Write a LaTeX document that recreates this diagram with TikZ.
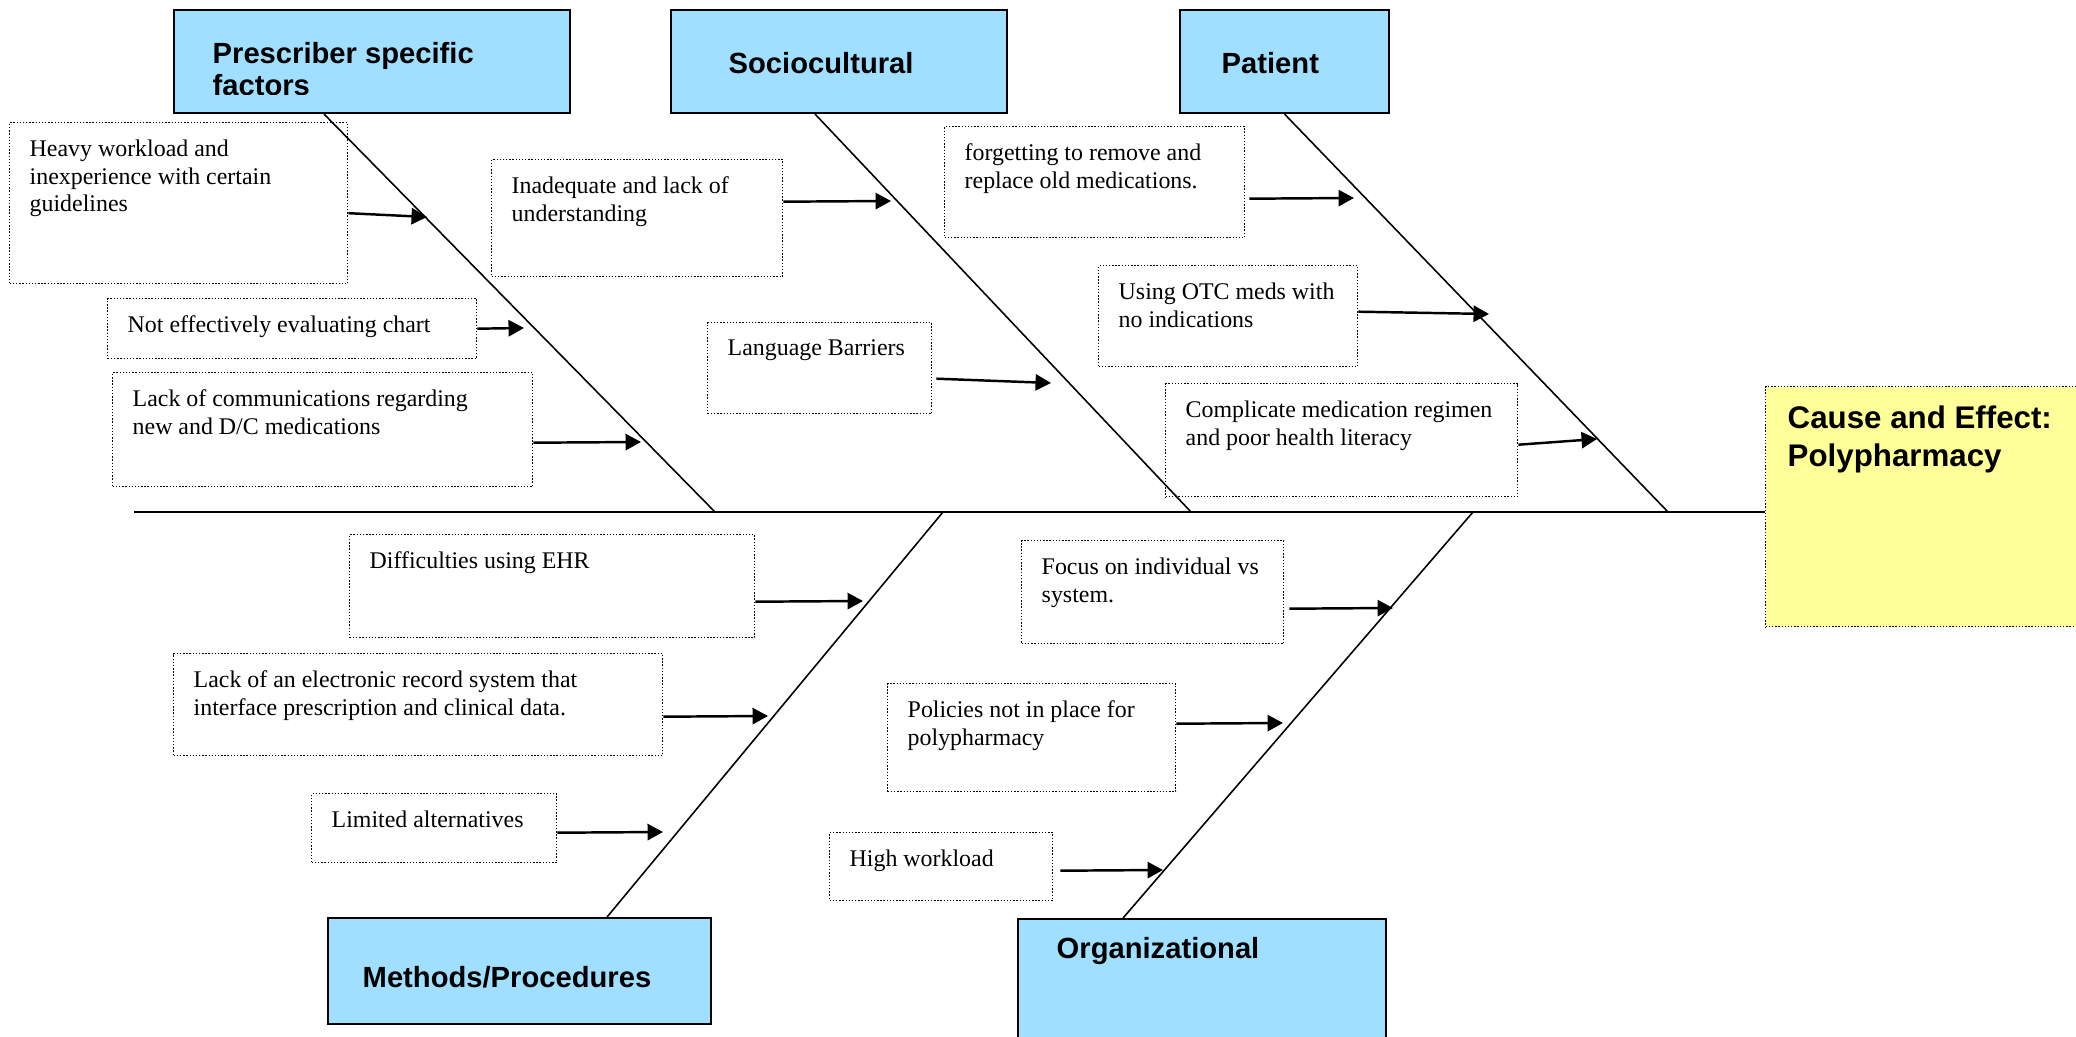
\documentclass[tikz,border=0pt]{standalone}
\usepackage{fontspec}
\setmainfont{Liberation Serif}
\newfontfamily\headfont{Liberation Sans}
\usetikzlibrary{arrows.meta}
\definecolor{catblue}{RGB}{160,223,255}
\definecolor{effectyellow}{RGB}{255,255,153}

\begin{document}
\begin{tikzpicture}[
        category/.style={draw, line width=0.6pt, fill=catblue, anchor=north west, inner sep=0pt},
        cattext/.style={anchor=north west, inner sep=0pt, align=left, font=\headfont\bfseries\fontsize{8.3}{9.1}\selectfont},
        causebox/.style={draw, line width=0.4pt, dash pattern=on 0.4pt off 0.5pt, anchor=north west, inner sep=0pt},
        causetext/.style={anchor=north west, inner sep=0pt, align=left, font=\fontsize{6.8}{7.9}\selectfont},
        bone/.style={line width=0.45pt},
        causearrow/.style={line width=0.7pt, -{Triangle[length=4.4pt, width=4.6pt]}}
    ]
        \useasboundingbox (0,0) rectangle (20.76,10.36);
        \clip (0,0) rectangle (20.76,10.36);

        % Category boxes
        \node[category, minimum width=3.96cm, minimum height=1.03cm] (prescriber) at (1.73,10.27) {};
        \begin{scope}
            \clip (prescriber.north west) rectangle ([yshift=-0.86cm]prescriber.north east);
            \node[cattext] (prescriber-t) at ([shift={(0.39,-0.33)}]prescriber.north west) {Prescriber specific\\factors};
        \end{scope}
        \node[category, minimum width=3.36cm, minimum height=1.03cm] (sociocultural) at (6.70,10.27) {};
        \node[cattext] (sociocultural-t) at ([shift={(0.58,-0.43)}]sociocultural.north west) {Sociocultural};
        \node[category, minimum width=2.09cm, minimum height=1.03cm] (patient) at (11.79,10.27) {};
        \node[cattext] (patient-t) at ([shift={(0.42,-0.43)}]patient.north west) {Patient};
        \node[category, minimum width=3.83cm, minimum height=1.06cm] (methods) at (3.27,1.19) {};
        \node[cattext] (methods-t) at ([shift={(0.35,-0.49)}]methods.north west) {Methods/Procedures};
        \node[category, minimum width=3.68cm, minimum height=1.5cm] (organizational) at (10.17,1.18) {};
        \node[cattext] (organizational-t) at ([shift={(0.39,-0.19)}]organizational.north west) {Organizational};

        % Effect box
        \node[causebox, fill=effectyellow, minimum width=3.5cm, minimum height=2.40cm] (effect) at (17.65,6.50) {};
        \node[cattext, font=\headfont\bfseries\fontsize{8.9}{10.8}\selectfont] (effect-t) at ([shift={(0.22,-0.19)}]effect.north west) {Cause and Effect:\\Polypharmacy};

        % Main spine and bones
        \coordinate (tail) at (1.34,5.24);
        \coordinate (j-pres) at (7.15,5.24);
        \coordinate (j-soc) at (11.91,5.24);
        \coordinate (j-pat) at (16.68,5.24);
        \coordinate (j-meth) at (9.43,5.24);
        \coordinate (j-org) at (14.73,5.24);
        \draw[line width=0.6pt] (tail) -- (tail -| effect.west);
        \draw[bone] ([xshift=-0.48cm]prescriber.south) -- (j-pres);
        \draw[bone] ([xshift=-0.24cm]sociocultural.south) -- (j-soc);
        \draw[bone] (patient.south) -- (j-pat);
        \draw[bone] ([xshift=0.875cm]methods.north) -- (j-meth);
        \draw[bone] ([xshift=-0.79cm]organizational.north) -- (j-org);

        % Causes above the spine
        \node[causebox, minimum width=3.38cm, minimum height=1.61cm] (heavy) at (0.09,9.14) {};
        \node[causetext] (heavy-t) at ([shift={(0.2,-0.17)}]heavy.north west) {Heavy workload and\\inexperience with certain\\guidelines};
        \node[causebox, minimum width=3.69cm, minimum height=0.60cm] (noteval) at (1.07,7.38) {};
        \node[causetext] (noteval-t) at ([shift={(0.2,-0.17)}]noteval.north west) {Not effectively evaluating chart};
        \node[causebox, minimum width=4.20cm, minimum height=1.14cm] (lackcomm) at (1.12,6.64) {};
        \node[causetext] (lackcomm-t) at ([shift={(0.2,-0.17)}]lackcomm.north west) {Lack of communications regarding\\new and D/C medications};
        \node[causebox, minimum width=2.91cm, minimum height=1.17cm] (inadequate) at (4.91,8.77) {};
        \node[causetext] (inadequate-t) at ([shift={(0.2,-0.17)}]inadequate.north west) {Inadequate and lack of\\understanding};
        \node[causebox, minimum width=2.24cm, minimum height=0.91cm] (language) at (7.07,7.14) {};
        \node[causetext] (language-t) at ([shift={(0.2,-0.17)}]language.north west) {Language Barriers};
        \node[causebox, minimum width=3.00cm, minimum height=1.11cm] (forgetting) at (9.44,9.10) {};
        \node[causetext] (forgetting-t) at ([shift={(0.2,-0.17)}]forgetting.north west) {forgetting to remove and\\replace old medications.};
        \node[causebox, minimum width=2.59cm, minimum height=1.01cm] (otc) at (10.98,7.71) {};
        \node[causetext] (otc-t) at ([shift={(0.2,-0.17)}]otc.north west) {Using OTC meds with\\no indications};
        \node[causebox, minimum width=3.52cm, minimum height=1.13cm] (complicate) at (11.65,6.53) {};
        \node[causetext] (complicate-t) at ([shift={(0.2,-0.17)}]complicate.north west) {Complicate medication regimen\\and poor health literacy};

        % Causes below the spine
        \node[causebox, minimum width=4.05cm, minimum height=1.03cm] (difficulties) at (3.49,5.02) {};
        \node[causetext] (difficulties-t) at ([shift={(0.2,-0.17)}]difficulties.north west) {Difficulties using EHR};
        \node[causebox, minimum width=4.89cm, minimum height=1.02cm] (lackrecord) at (1.73,3.83) {};
        \node[causetext] (lackrecord-t) at ([shift={(0.2,-0.17)}]lackrecord.north west) {Lack of an electronic record system that\\interface prescription and clinical data.};
        \node[causebox, minimum width=2.45cm, minimum height=0.69cm] (limited) at (3.11,2.43) {};
        \node[causetext] (limited-t) at ([shift={(0.2,-0.17)}]limited.north west) {Limited alternatives};
        \node[causebox, minimum width=2.62cm, minimum height=1.03cm] (focus) at (10.21,4.96) {};
        \node[causetext] (focus-t) at ([shift={(0.2,-0.17)}]focus.north west) {Focus on individual vs\\system.};
        \node[causebox, minimum width=2.88cm, minimum height=1.08cm] (policies) at (8.87,3.53) {};
        \node[causetext] (policies-t) at ([shift={(0.2,-0.17)}]policies.north west) {Policies not in place for\\polypharmacy};
        \node[causebox, minimum width=2.23cm, minimum height=0.68cm] (highload) at (8.29,2.04) {};
        \node[causetext] (highload-t) at ([shift={(0.2,-0.17)}]highload.north west) {High workload};

        % Arrow tips on the bones
        \coordinate (a1) at (4.27,8.19);
        \coordinate (a2) at (5.24,7.08);
        \coordinate (a3) at (6.41,5.94);
        \coordinate (a4) at (8.91,8.35);
        \coordinate (a5) at (10.51,6.53);
        \coordinate (a6) at (13.54,8.38);
        \coordinate (a7) at (14.89,7.22);
        \coordinate (a8) at (15.97,5.97);
        \coordinate (a9) at (8.63,4.35);
        \coordinate (a10) at (7.68,3.20);
        \coordinate (a11) at (6.63,2.04);
        \coordinate (a12) at (13.93,4.28);
        \coordinate (a13) at (12.83,3.13);
        \coordinate (a14) at (11.63,1.66);

        % Arrows
        \draw[causearrow] ([yshift=-0.1cm]heavy.east) -- (a1);
        \draw[causearrow] (noteval.east) -- (a2);
        \draw[causearrow] ([yshift=-0.13cm]lackcomm.east) -- (a3);
        \draw[causearrow] ([yshift=0.165cm]inadequate.east) -- (a4);
        \draw[causearrow] ([shift={(0.04,-0.105)}]language.east) -- (a5);
        \draw[causearrow] ([shift={(0.04,-0.165)}]forgetting.east) -- (a6);
        \draw[causearrow] ([yshift=0.045cm]otc.east) -- (a7);
        \draw[causearrow] ([yshift=-0.045cm]complicate.east) -- (a8);
        \draw[causearrow] ([yshift=-0.155cm]difficulties.east) -- (a9);
        \draw[causearrow] ([yshift=-0.12cm]lackrecord.east) -- (a10);
        \draw[causearrow] ([yshift=-0.045cm]limited.east) -- (a11);
        \draw[causearrow] ([shift={(0.05,-0.165)}]focus.east) -- (a12);
        \draw[causearrow] ([yshift=0.14cm]policies.east) -- (a13);
        \draw[causearrow] ([shift={(0.07,-0.04)}]highload.east) -- (a14);
    \end{tikzpicture}
\end{document}
